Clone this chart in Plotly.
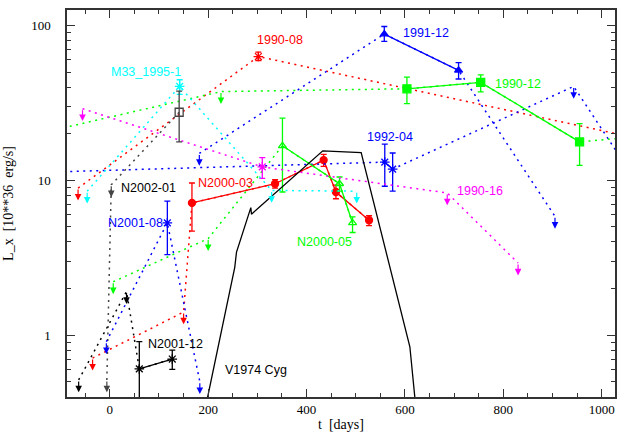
import numpy as np
import plotly.graph_objects as go

# ---- data (t in days, L_x in 1e36 erg/s) ----
# flag: 0 = detection, 1 = upper limit, 2 = continuation point outside the frame
t_9008 = [-64.5, 302, 1100]
L_9008 = [8.9, 63, 17.9]
f_9008 = [1, 0, 2]
hi_9008 = [None, 67.3, None]
lo_9008 = [None, 59.4, None]

t_n0003 = [-35, 150, 167, 336, 434.7, 459.7, 527]
L_n0003 = [0.71, 1.41, 7.14, 9.5, 13.5, 8.4, 5.52]
f_n0003 = [1, 1, 0, 0, 0, 0, 0]
hi_n0003 = [None, None, 9.6, 10.1, 14.7, 9.3, 5.9]
lo_n0003 = [None, None, 4.7, 8.9, 12.3, 7.6, 5.1]

t_9112 = [182, 558, 709, 905]
L_9112 = [14.9, 88, 51.3, 5.85]
f_9112 = [1, 0, 0, 1]
hi_9112 = [None, 98.5, 57.6, None]
lo_9112 = [None, 78.9, 45.1, None]

t_9204 = [-120, 559, 575, 943, 1060]
L_9204 = [11.3, 13.1, 11.8, 40.4, 11.0]
f_9204 = [2, 0, 0, 1, 2]
hi_9204 = [None, 17.1, 15.0, None, None]
lo_9204 = [None, 9.15, 8.5, None, None]

t_9012 = [-120, 226, 604, 754, 955, 1100]
L_9012 = [20.9, 37.4, 39, 42.9, 17.7, 19.5]
f_9012 = [2, 1, 0, 0, 0, 2]
hi_9012 = [None, None, 46.4, 47.9, 23.2, None]
lo_9012 = [None, None, 31.3, 37.3, 12.5, None]

t_n0005 = [7, 200, 351, 467, 493.5]
L_n0005 = [2.21, 4.2, 16.7, 9.5, 5.3]
f_n0005 = [1, 1, 0, 0, 0]
hi_n0005 = [None, None, 25.2, 10.5, 5.8]
lo_n0005 = [None, None, 8.4, 8.5, 4.6]

t_9016 = [-55.5, 310, 686, 830]
L_9016 = [29.0, 12.2, 8.28, 2.92]
f_9016 = [1, 0, 1, 1]
hi_9016 = [None, 14.0, None, None]
lo_9016 = [None, 10.3, None, None]

t_m33 = [-46, 142, 329, 502]
L_m33 = [8.5, 40.4, 8.6, 8.5]
f_m33 = [1, 0, 1, 1]
hi_m33 = [None, 44.6, None, None]
lo_m33 = [None, 35.9, None, None]

t_n0201 = [-6, 3, 141]
L_n0201 = [0.513, 9.35, 27.5]
f_n0201 = [1, 1, 0]
hi_n0201 = [None, None, 37.7]
lo_n0201 = [None, None, 17.7]

t_n0112 = [-63.3, 34, 60, 127]
L_n0112 = [0.513, 1.91, 0.605, 0.70]
f_n0112 = [1, 1, 0, 0]
hi_n0112 = [None, None, 0.906, 0.80]
lo_n0112 = [None, None, 0.30, 0.60]

t_n0108 = [-7, 117, 183]
L_n0108 = [0.906, 5.31, 0.50]
f_n0108 = [1, 0, 1]
hi_n0108 = [None, 7.33, None]
lo_n0108 = [None, 3.31, None]

# V1974 Cyg light curve
t_cyg = [195, 237, 254, 257.6, 286.7, 288, 433, 511, 610, 622]
L_cyg = [0.347, 1.49, 2.74, 3.44, 6.66, 6.04, 15.5, 15.1, 0.84, 0.344]

# labels
lab_text = ["1990-08", "1991-12", "M33_1995-1", "1990-12", "1992-04", "N2002-01",
            "N2000-03", "1990-16", "N2001-08", "N2000-05", "N2001-12", "V1974 Cyg"]
lab_t = [296, 592, -1, 778, 518, 18, 175, 702, -8, 377, 74, 231]
lab_L = [80, 89.7, 50, 42, 19, 8.97, 9.6, 8.5, 5.3, 4.0, 0.871, 0.594]
lab_color = ["#ff0000", "#0000ff", "#00ffff", "#00ff00", "#0000ff", "#000000",
             "#ff0000", "#ff00ff", "#0000ff", "#00ff00", "#000000", "#000000"]

series = [
    (t_9008, L_9008, f_9008, hi_9008, lo_9008, "#ff0000", "asterisk-open", 8),
    (t_n0003, L_n0003, f_n0003, hi_n0003, lo_n0003, "#ff0000", "circle", 7),
    (t_9112, L_9112, f_9112, hi_9112, lo_9112, "#0000ff", "triangle-up", 7),
    (t_9204, L_9204, f_9204, hi_9204, lo_9204, "#0000ff", "asterisk-open", 8),
    (t_9012, L_9012, f_9012, hi_9012, lo_9012, "#00ff00", "square", 8),
    (t_n0005, L_n0005, f_n0005, hi_n0005, lo_n0005, "#00ff00", "triangle-up-open", 7),
    (t_9016, L_9016, f_9016, hi_9016, lo_9016, "#ff00ff", "asterisk-open", 8),
    (t_m33, L_m33, f_m33, hi_m33, lo_m33, "#00ffff", "asterisk-open", 8),
    (t_n0201, L_n0201, f_n0201, hi_n0201, lo_n0201, "#444444", "square-open", 8),
    (t_n0112, L_n0112, f_n0112, hi_n0112, lo_n0112, "#000000", "asterisk-open", 8),
    (t_n0108, L_n0108, f_n0108, hi_n0108, lo_n0108, "#0000ff", "asterisk-open", 8),
]

fig = go.Figure()
annotations = []
ARROW_LEN = 0.08  # decades

for t, L, f, hi, lo, col, sym, msz in series:
    # dotted connection through all points
    fig.add_trace(go.Scatter(x=t, y=L, mode="lines",
                             line=dict(color=col, width=1.5, dash="2px,4.5px"),
                             hoverinfo="skip", showlegend=False))
    det = [i for i, fl in enumerate(f) if fl == 0]
    dt = [t[i] for i in det]
    dL = [L[i] for i in det]
    eh = [hi[i] - L[i] for i in det]
    el = [L[i] - lo[i] for i in det]
    fig.add_trace(go.Scatter(
        x=dt, y=dL, mode="lines+markers" if len(det) > 1 else "markers",
        line=dict(color=col, width=1.3),
        marker=dict(symbol=sym, size=msz, color=col, line=dict(color=col, width=1.3)),
        error_y=dict(type="data", symmetric=False, array=eh, arrayminus=el,
                     color=col, thickness=1.3, width=3),
        showlegend=False))
    for i, fl in enumerate(f):
        if fl == 1:
            ly = np.log10(L[i])
            annotations.append(dict(
                x=t[i], y=ly - ARROW_LEN, xref="x", yref="y",
                ax=t[i], ay=ly, axref="x", ayref="y",
                showarrow=True, arrowhead=2, arrowsize=1.1, arrowwidth=1.2,
                arrowcolor=col, text=""))

fig.add_trace(go.Scatter(x=t_cyg, y=L_cyg, mode="lines",
                         line=dict(color="black", width=1.3),
                         showlegend=False))

for txt, tx, ly, c in zip(lab_text, lab_t, lab_L, lab_color):
    annotations.append(dict(x=tx, y=np.log10(ly), xref="x", yref="y", text=txt,
                            showarrow=False, xanchor="left", yanchor="middle",
                            font=dict(family="Liberation Sans", size=12.5, color=c)))

minor_y = [m * 10 ** d for d in (-1, 0, 1, 2) for m in range(2, 10)]

fig.update_layout(
    width=617, height=432,
    margin=dict(l=67, r=2, t=10, b=35, autoexpand=False),
    paper_bgcolor="white", plot_bgcolor="white",
    annotations=annotations,
    font=dict(family="Liberation Serif", size=13, color="black"),
    xaxis=dict(range=[-87, 1027], showgrid=False, zeroline=False,
               showline=True, linecolor="#333", linewidth=1.5, mirror="ticks",
               ticks="inside", ticklen=8, tickwidth=1.2, tickcolor="#333",
               tickvals=[0, 200, 400, 600, 800, 1000],
               minor=dict(ticks="inside", ticklen=4.5, tickwidth=1, tickcolor="#333",
                          dtick=50, showgrid=False),
               ticklabelstandoff=0,
               title=dict(text="t\u00a0\u00a0[days]", standoff=3,
                          font=dict(family="Liberation Serif", size=14))),
    yaxis=dict(type="log", range=[-0.4, 2.1], showgrid=False, zeroline=False,
               showline=True, linecolor="#333", linewidth=1.5, mirror="ticks",
               ticks="inside", ticklen=8, tickwidth=1.2, tickcolor="#333",
               tickvals=[1, 10, 100], ticktext=["1", "10", "100"],
               minor=dict(ticks="inside", ticklen=4.5, tickwidth=1, tickcolor="#333",
                          tickvals=minor_y, showgrid=False),
               ticklabelstandoff=12,
               title=dict(text="L_x\u00a0\u00a0[10**36\u00a0\u00a0erg/s]", standoff=14,
                          font=dict(family="Liberation Serif", size=14))),
)

fig.write_html("out.html", config={"displayModeBar": False},
               post_script="document.body.style.margin='0';document.body.style.padding='0';")
